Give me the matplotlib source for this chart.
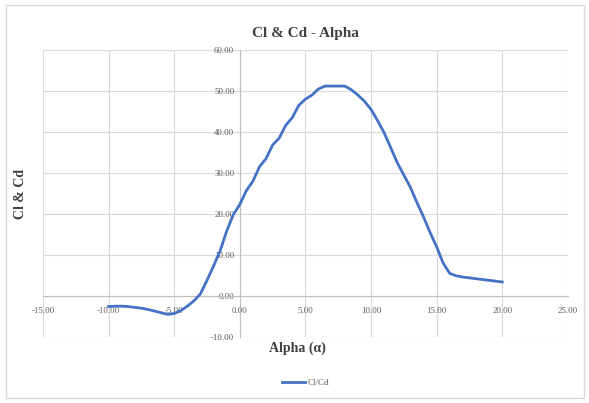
import matplotlib
matplotlib.use('Agg')
import matplotlib.pyplot as plt
import numpy as np

# Cl/Cd against angle of attack
alpha = [-10, -9.5, -9, -8.5, -8, -7.5, -7, -6.5, -6, -5.5, -5, -4.5, -4, -3.5, -3,
         -2.5, -2, -1.5, -1, -0.5, 0, 0.5, 1, 1.5, 2, 2.5, 3, 3.5, 4, 4.5, 5,
         5.5, 6, 6.5, 7, 7.5, 8, 8.5, 9, 9.5, 10, 10.5, 11, 11.5, 12, 12.5, 13,
         13.5, 14, 14.5, 15, 15.5, 16, 16.5, 17, 17.5, 18, 18.5, 19, 19.5, 20]
cl_cd = [-2.6, -2.5, -2.5, -2.6, -2.8, -3.0, -3.3, -3.7, -4.1, -4.5, -4.3, -3.6, -2.5, -1.2, 0.5,
         3.8, 7.3, 11.0, 15.8, 19.8, 22.3, 25.7, 28.0, 31.5, 33.5, 36.8, 38.5, 41.6, 43.5, 46.5, 48.0,
         49.0, 50.5, 51.2, 51.2, 51.2, 51.2, 50.3, 49.0, 47.5, 45.5, 42.8, 39.8, 36.2, 32.5, 29.5, 26.5,
         22.8, 19.3, 15.5, 12.0, 8.0, 5.5, 4.9, 4.6, 4.4, 4.2, 4.0, 3.8, 3.6, 3.4]
series_name = 'Cl/Cd'

xticks = np.arange(-15, 26, 5)
yticks = np.arange(-10, 61, 10)

plt.rcParams['font.family'] = ['Liberation Serif', 'DejaVu Serif']

fig = plt.figure(figsize=(5.89, 4.03), dpi=100)
ax = fig.add_axes([0.073, 0.164, 0.891, 0.712])

ax.plot(alpha, cl_cd, color='#4472C4', linewidth=2.0, label=series_name, zorder=3)

ax.set_xlim(-15, 25)
ax.set_ylim(-10, 60)
ax.set_xticks(xticks)
ax.set_yticks(yticks)
ax.set_xticklabels([f'{v:.2f}' for v in xticks])
ax.set_yticklabels([f'{v:.2f}' for v in yticks])
ax.grid(True, color='#d9d9d9', linewidth=0.8)
ax.set_axisbelow(True)

# axes cross at zero, like Excel
ax.spines['left'].set_position(('data', 0))
ax.spines['bottom'].set_position(('data', 0))
for s in ['left', 'bottom']:
    ax.spines[s].set_color('#bfbfbf')
for s in ['top', 'right']:
    ax.spines[s].set_visible(False)
ax.tick_params(length=0, labelsize=6.3, labelcolor='#595959')
ax.tick_params(axis='x', pad=8)
ax.tick_params(axis='y', pad=4)

ax.set_title('Cl & Cd - Alpha', fontsize=11, fontweight='bold', color='#404040', pad=9)
fig.text(0.035, 0.52, 'Cl & Cd', rotation=90, fontsize=10, fontweight='bold',
         color='#404040', ha='center', va='center')
fig.text(0.505, 0.135, 'Alpha (α)', fontsize=10, fontweight='bold',
         color='#404040', ha='center', va='center')
ax.legend(loc='center', bbox_to_anchor=(0.5, -0.16), frameon=False, fontsize=6.5,
          handlelength=2.5, handletextpad=0.3, labelcolor='#595959')

# chart border
fig.patches.append(plt.Rectangle((0.01, 0.012), 0.982, 0.976, transform=fig.transFigure,
                                 fill=False, edgecolor='#d9d9d9', linewidth=1))

plt.savefig('out.png', dpi=100)
plt.close()
